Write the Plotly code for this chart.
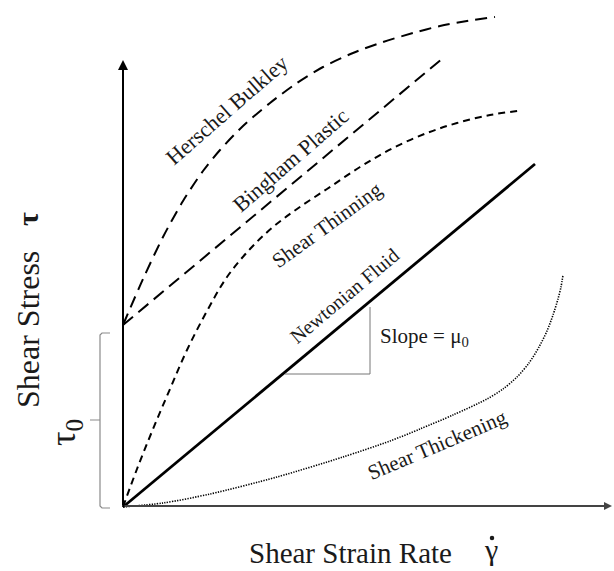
import plotly.graph_objects as go

# Schematic flow curves: shear stress (tau) vs shear strain rate (gamma-dot), arbitrary units
newtonian_rate = [0, 412]
newtonian_stress = [0, 343]

bingham_rate = [0, 320]
bingham_stress = [182, 449]

herschel_rate = [0, 20, 40, 60, 80, 97, 120, 147, 174, 200, 230, 260, 290, 317, 344, 372]
herschel_stress = [182, 228, 270, 306, 336, 357, 381, 404, 424, 440, 454, 465, 474, 481, 486, 490]

thinning_rate = [0, 14, 30, 47, 64, 84, 104, 127, 150, 174, 204, 237, 270, 304, 334, 367, 395]
thinning_stress = [0, 38, 78, 118, 157, 196, 230, 258, 280, 298, 318, 340, 359, 374, 384, 392, 396]

thickening_rate = [0, 40, 87, 154, 220, 267, 297, 330, 364, 380, 394, 406, 416, 424, 430, 435, 438, 440]
thickening_stress = [0, 4, 13, 30, 50, 66, 78, 92, 108, 118, 130, 144, 160, 176, 192, 208, 220, 232]

yield_stress = 174          # tau_0, intercept of the Bingham / Herschel-Bulkley curves
slope_run = [162, 247]      # slope triangle under the Newtonian line
slope_rise_top = 200

SERIF = "Liberation Serif"
INK = "#1a1a1a"

fig = go.Figure()

def curve(x, y, width, dash, color="black", shape="spline", smoothing=0.8):
    fig.add_trace(go.Scatter(
        x=x, y=y, mode="lines",
        line=dict(color=color, width=width, dash=dash, shape=shape, smoothing=smoothing),
        hoverinfo="skip", showlegend=False))

curve(herschel_rate, herschel_stress, 2, "12px,7px")
curve(bingham_rate, bingham_stress, 2, "13px,7px", shape="linear")
curve(thinning_rate, thinning_stress, 2, "7px,5px", smoothing=1.0)
curve(newtonian_rate, newtonian_stress, 2.8, "solid", shape="linear")
curve(thickening_rate, thickening_stress, 1.6, "1.3px,1.3px")

# slope triangle
curve([slope_run[0], slope_run[1], slope_run[1]], [133, 133, slope_rise_top], 1, "solid",
      color="#777777", shape="linear")

# brace marking the yield stress tau_0
bx = -23
curve([bx + 10, bx + 2, bx, bx, bx - 10, bx, bx, bx + 2, bx + 10],
      [yield_stress, yield_stress, yield_stress - 2, yield_stress / 2, yield_stress / 2,
       yield_stress / 2, 1, -1, -1], 1.2, "solid", color="#8a8a8a", shape="linear")

# axes with arrowheads
fig.add_annotation(x=489, y=1, ax=0, ay=1, xref="x", yref="y", axref="x", ayref="y",
                   showarrow=True, arrowhead=2, arrowsize=0.8, arrowwidth=2,
                   arrowcolor="#444444", text="")
fig.add_annotation(x=0, y=447, ax=0, ay=0, xref="x", yref="y", axref="x", ayref="y",
                   showarrow=True, arrowhead=2, arrowsize=1.0, arrowwidth=2,
                   arrowcolor="black", text="")

def label(text, x, y, size, angle=0, xanchor="center"):
    fig.add_annotation(x=x, y=y, xref="x", yref="y", text=text, showarrow=False,
                       textangle=angle, xanchor=xanchor, yanchor="middle",
                       font=dict(family=SERIF, size=size, color=INK))

label("Herschel Bulkley", 103, 397, 22, -41)
label("Bingham Plastic", 167, 347, 22, -41)
label("Shear Thinning", 204, 282, 21, -36)
label("Newtonian Fluid", 221, 211, 20, -40)
label("Shear Thickening", 314, 62, 21, -23)
label("Slope = μ<sub>0</sub>", 255, 170, 21, 0, xanchor="left")

label("Shear Stress", -95, 177, 32, -90)
label("<b>τ</b>", -96, 288, 30, -90)
label("τ<sub>0</sub>", -58, 74, 36, -90)
label("Shear Strain Rate", 227, -46, 29)
label("γ", 368, -42, 30)

# overdot of the strain-rate symbol
fig.add_trace(go.Scatter(x=[369], y=[-31], mode="markers",
                         marker=dict(size=4.5, color=INK),
                         hoverinfo="skip", showlegend=False))

fig.update_layout(
    width=614, height=571,
    margin=dict(l=0, r=0, t=0, b=0),
    paper_bgcolor="white", plot_bgcolor="white",
    xaxis=dict(range=[-123, 491], visible=False, fixedrange=True),
    yaxis=dict(range=[-64, 507], visible=False, fixedrange=True),
    showlegend=False,
)

fig.write_html("out.html")
